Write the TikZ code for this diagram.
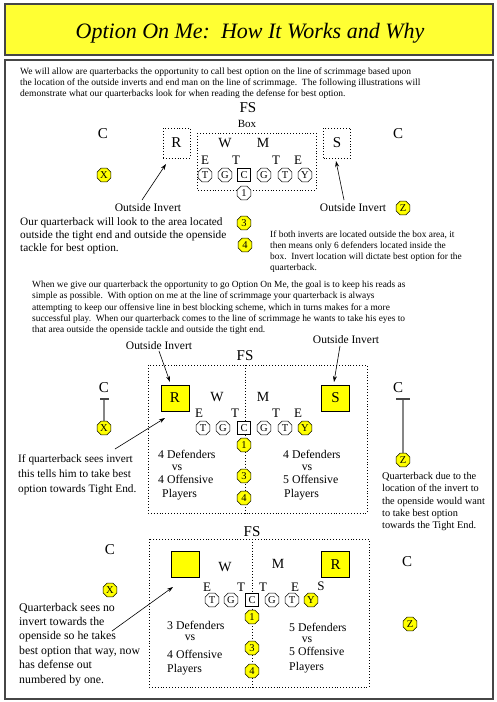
\documentclass[tikz,border=0pt]{standalone}
\usepackage{fontspec}
\setmainfont{Liberation Serif}
\usetikzlibrary{shapes.geometric,arrows.meta}
\definecolor{ttl}{RGB}{255,255,51}
\definecolor{yl}{RGB}{255,255,0}
\definecolor{frame}{RGB}{70,70,70}
\newcommand\fsz[1]{\fontsize{#1}{#1}\selectfont}
\tikzset{
  lbl/.style={inner sep=0},
  pl/.style={draw, fill=white, regular polygon, regular polygon sides=8, minimum size=15pt, inner sep=0, font=\fsz{10.5}, line width=0.6pt},
  ypl/.style={pl, fill=yl},
  ctr/.style={draw, fill=white, minimum size=13.5pt, inner sep=0, font=\fsz{10.5}, line width=0.7pt},
  dbox/.style={draw, dotted, line width=0.9pt},
  dsq/.style={dbox, minimum width=27pt, minimum height=30pt, inner sep=0, font=\fsz{15}},
  ysq/.style={draw, fill=yl, line width=0.7pt, minimum width=28pt, minimum height=26pt, inner sep=0, font=\fsz{15}},
  arr/.style={-{Stealth[length=6pt,width=4pt]}, line width=0.6pt},
  blkl/.style={draw=frame, line width=1.3pt},
  para/.style={inner sep=0, anchor=north west, align=left},
  big/.style={inner sep=0, font=\fsz{15}},
  mid/.style={inner sep=0, font=\fsz{14}},
  sml/.style={inner sep=0, font=\fsz{13}},
  oi/.style={inner sep=0, font=\fsz{11.5}},
  cnt/.style={inner sep=0, anchor=base west, font=\fsz{11.8}},
  cntc/.style={inner sep=0, anchor=base, font=\fsz{11.8}}
}
\begin{document}
\begin{tikzpicture}[x=1pt,y=-1pt]
\useasboundingbox (0,0) rectangle (496,702);
\fill[white] (0,0) rectangle (496,702);
% frames
\draw[fill=ttl, draw=frame, line width=2pt] (5,4) rectangle (493,55);
\node[inner sep=0, font=\fsz{22}\itshape] (title) at (250,33) {Option On Me:\ \ How It Works and Why};
\draw[draw=frame, line width=2pt] (5,60) rectangle (493,699);

\node[para, font=\fontsize{9.5}{11}\selectfont] (intro) at (20,67.7) {We will allow are quarterbacks the opportunity to call best option on the line of scrimmage based upon\\the location of the outside inverts and end man on the line of scrimmage.\ \ The following illustrations will\\demonstrate what our quarterbacks look for when reading the defense for best option.};

% ---------------- Diagram 1
\node[big] (fs1) at (248,108) {FS};
\node[inner sep=0, font=\fsz{11}] (box1) at (247,124) {Box};
\draw[dbox] (197,133) rectangle (316,190);
\node[dsq] (r1) at (176.5,143) {R};
\node[dsq] (s1) at (337,143) {S};
\node[big] (cl1) at (103,134) {C};
\node[big] (cr1) at (398,134) {C};
\node[mid] (w1) at (225,143) {W};
\node[mid] (m1) at (263,143) {M};
\node[sml] (el1) at (205,160) {E};
\node[sml] (tl1) at (236,160) {T};
\node[sml] (tr1) at (276,160) {T};
\node[sml] (er1) at (298,160) {E};
\node[pl] (lt1) at (205,175) {T};
\node[pl] (lg1) at (225,175) {G};
\node[ctr] (c1) at (244,175) {C};
\node[pl] (rg1) at (264,175) {G};
\node[pl] (rt1) at (285,175) {T};
\node[pl] (y1) at (305,175) {Y};
\node[pl] (q1) at (244,193) {1};
\node[ypl] (x1) at (104,175) {X};
\node[oi] (oil1) at (148,208) {Outside Invert};
\node[oi] (oir1) at (353,208) {Outside Invert};
\node[ypl] (z1) at (403,208) {Z};
\node[ypl] (b31) at (244,223) {3};
\node[ypl] (b41) at (245,245) {4};
\coordinate (a1t) at (142,200);
\coordinate (a1h) at (166,164);
\coordinate (a2t) at (344,200);
\coordinate (a2h) at (336,161);
\draw[arr] (a1t) -- (a1h);
\draw[arr] (a2t) -- (a2h);
\node[para, font=\fontsize{11.3}{12.7}\selectfont] (txt1) at (20,217.9) {Our quarterback will look to the area located\\outside the tight end and outside the openside\\tackle for best option.};
\node[para, font=\fontsize{9.4}{10.8}\selectfont] (txt2) at (270,230.8) {If both inverts are located outside the box area, it\\then means only 6 defenders located inside the\\box.\ \ Invert location will dictate best option for the\\quarterback.};

\node[para, font=\fontsize{9.4}{11.3}\selectfont] (para2) at (32,280.8) {When we give our quarterback the opportunity to go Option On Me, the goal is to keep his reads as\\simple as possible.\ \ With option on me at the line of scrimmage your quarterback is always\\attempting to keep our offensive line in best blocking scheme, which in turns makes for a more\\successful play.\ \ When our quarterback comes to the line of scrimmage he wants to take his eyes to\\that area outside the openside tackle and outside the tight end.};

% ---------------- Diagram 2
\node[oi] (oil2) at (159,346) {Outside Invert};
\node[oi] (oir2) at (346,340) {Outside Invert};
\node[big] (fs2) at (245,356) {FS};
\draw[dbox] (148,365) rectangle (367,513);
\draw[dbox] (245,365) -- (245,513);
\node[ysq] (r2) at (175,398) {R};
\node[ysq] (s2) at (335.5,398) {S};
\node[big] (cl2) at (104,388) {C};
\node[big] (cr2) at (398,388) {C};
\node[mid] (w2) at (217,397) {W};
\node[mid] (m2) at (263,397) {M};
\node[sml] (el2) at (199,413) {E};
\node[sml] (tl2) at (235,413) {T};
\node[sml] (tr2) at (276,413) {T};
\node[sml] (er2) at (298,413) {E};
\node[pl] (lt2) at (203,428) {T};
\node[pl] (lg2) at (223,428) {G};
\node[ctr] (c2) at (244,428) {C};
\node[pl] (rg2) at (264,428) {G};
\node[pl] (rt2) at (285,428) {T};
\node[ypl] (y2) at (305,428) {Y};
\node[ypl] (q2) at (244,445) {1};
\node[ypl] (b32) at (244,476) {3};
\node[ypl] (b42) at (244,498) {4};
\node[ypl] (x2) at (104,428) {X};
\node[ypl] (z2) at (403,460) {Z};
\coordinate (bl2a) at (100,399);
\coordinate (bl2b) at (109,399);
\coordinate (bl2c) at (104,399);
\draw[blkl] (bl2a) -- (bl2b);
\draw[blkl] (bl2c) -- (x2.north);
\coordinate (br2a) at (396,399);
\coordinate (br2b) at (410,399);
\coordinate (br2c) at (403,399);
\draw[blkl] (br2a) -- (br2b);
\draw[blkl] (br2c) -- (z2.north);
\coordinate (a3t) at (159,351);
\coordinate (a3h) at (170,382);
\coordinate (a4t) at (340,346);
\coordinate (a4h) at (334,382);
\coordinate (a5t) at (115,449);
\coordinate (a5h) at (165,418);
\draw[arr] (a3t) -- (a3h);
\draw[arr] (a4t) -- (a4h);
\draw[arr] (a5t) -- (a5h);
\node[para, font=\fontsize{11.3}{15}\selectfont] (txt3) at (18,453.9) {If quarterback sees invert\\this tells him to take best\\option towards Tight End.};
\node[para, font=\fontsize{10.3}{12.2}\selectfont] (txt4) at (382,472.4) {Quarterback due to the\\location of the invert to\\the openside would want\\to take best option\\towards the Tight End.};
\node[cnt] (d2a) at (158,458.5) {4 Defenders};
\node[cntc] (d2b) at (177,470.5) {vs};
\node[cnt] (d2c) at (158,483.5) {4 Offensive};
\node[cnt] (d2d) at (162,497.5) {Players};
\node[cnt] (d2e) at (283,458.5) {4 Defenders};
\node[cntc] (d2f) at (307,470.5) {vs};
\node[cnt] (d2g) at (283,483.5) {5 Offensive};
\node[cnt] (d2h) at (284,497.5) {Players};

% ---------------- Diagram 3
\node[big] (fs3) at (252,532) {FS};
\draw[dbox] (149,539) rectangle (369,687);
\draw[dbox] (252,539) -- (252,687);
\node[ysq] (e3) at (185,564.5) {};
\node[ysq] (r3) at (335.5,564.5) {R};
\node[big] (cl3) at (110,550) {C};
\node[big] (cr3) at (407,562) {C};
\node[mid] (w3) at (225,567) {W};
\node[mid] (m3) at (278,564) {M};
\node[sml] (el3) at (207,587) {E};
\node[sml] (tl3) at (241,587) {T};
\node[sml] (tr3) at (263,587) {T};
\node[sml] (er3) at (295,587) {E};
\node[sml] (ss3) at (321,586) {S};
\node[pl] (lt3) at (212,600) {T};
\node[pl] (lg3) at (231,600) {G};
\node[ctr] (c3) at (252,600) {C};
\node[pl] (rg3) at (272,600) {G};
\node[pl] (rt3) at (292,600) {T};
\node[ypl] (y3) at (311,600) {Y};
\node[ypl] (q3) at (252,617) {1};
\node[ypl] (b33) at (252,648) {3};
\node[ypl] (b43) at (252,671) {4};
\node[ypl] (x3) at (110,590) {X};
\node[ypl] (z3) at (410,624) {Z};
\coordinate (a6t) at (112,631);
\coordinate (a6h) at (173,587);
\draw[arr] (a6t) -- (a6h);
\node[para, font=\fontsize{11.8}{14.4}\selectfont] (txt5) at (19,602.7) {Quarterback sees no\\invert towards the\\openside so he takes\\best option that way, now\\has defense out\\numbered by one.};
\node[cnt] (d3a) at (167,629.5) {3 Defenders};
\node[cntc] (d3b) at (190,640.5) {vs};
\node[cnt] (d3c) at (167,658.5) {4 Offensive};
\node[cnt] (d3d) at (167,672.5) {Players};
\node[cnt] (d3e) at (289,631.5) {5 Defenders};
\node[cntc] (d3f) at (307,642.5) {vs};
\node[cnt] (d3g) at (289,655.5) {5 Offensive};
\node[cnt] (d3h) at (289,670.5) {Players};
\end{tikzpicture}
\end{document}
